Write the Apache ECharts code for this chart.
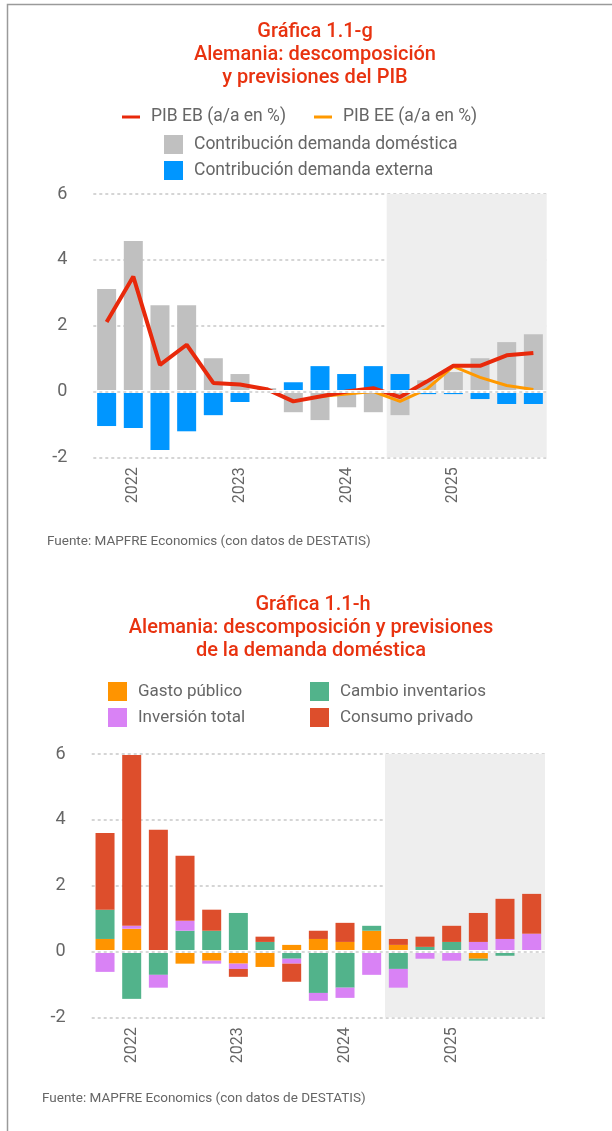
<!DOCTYPE html>
<html>
<head>
<meta charset="utf-8">
<script src="https://cdn.jsdelivr.net/npm/echarts@6/dist/echarts.min.js"></script>
<style>
html,body{margin:0;padding:0;background:#fff;}
#c{width:612px;height:1131px;}
</style>
</head>
<body>
<div id="c"></div>
<script>
// ---------- DATA ----------
var quarters = ['4T21','1T22','2T22','3T22','4T22','1T23','2T23','3T23','4T23','1T24','2T24','3T24','4T24','1T25','2T25','3T25','4T25'];
var yTicks = [-2, 0, 2, 4, 6];
var forecastStart = '3T24';
var forecastEnd = '4T25';

// Chart 1.1-g
var domestica = [3.11, 4.57, 2.62, 2.62, 1.01, 0.53, 0.10, -0.63, -0.87, -0.48, -0.63, -0.72, 0.34, 0.59, 1.01, 1.50, 1.74];
var externa   = [-1.05, -1.11, -1.78, -1.21, -0.72, -0.32, 0, 0.28, 0.77, 0.53, 0.77, 0.53, -0.08, -0.08, -0.23, -0.38, -0.38];
var pibEB     = [2.11, 3.49, 0.81, 1.42, 0.26, 0.21, 0.07, -0.30, -0.15, 0.00, 0.10, -0.17, 0.30, 0.78, 0.78, 1.10, 1.17];
var pibEE     = [null, null, null, null, null, null, null, null, -0.15, -0.08, 0.00, -0.30, 0.07, 0.76, 0.43, 0.18, 0.06];

// Chart 1.1-h
var gasto       = [0.38, 0.69, 0, -0.37, -0.28, -0.37, -0.47, 0.20, 0.38, 0.29, 0.63, 0.20, 0, 0, -0.22, 0, 0];
var inventarios = [0.89, -1.44, -0.71, 0.63, 0.63, 1.17, 0.29, -0.22, -1.26, -1.10, 0.15, -0.53, 0.14, 0.29, -0.06, -0.13, 0];
var inversion   = [-0.62, 0.09, -0.39, 0.30, -0.09, -0.16, 0, -0.15, -0.24, -0.31, -0.71, -0.57, -0.22, -0.28, 0.29, 0.38, 0.54];
var consumo     = [2.33, 5.19, 3.70, 1.98, 0.64, -0.24, 0.16, -0.55, 0.25, 0.58, 0, 0.18, 0.31, 0.49, 0.88, 1.22, 1.21];

// ---------- STYLE ----------
var FONT = 'Roboto';
var TXT = '#666666';
var RED_T = '#e8320f';

function xAxisCfg(gi){
  return {
    type:'category', gridIndex:gi, data:quarters, boundaryGap:true,
    axisLine:{show:false}, axisTick:{show:false},
    axisLabel:{
      interval:0, rotate:90, color:TXT, fontFamily:FONT, fontSize:16, margin:10,
      formatter:function(v){ return v.indexOf('1T')===0 ? '20'+v.slice(2) : ''; }
    },
    splitLine:{show:false}
  };
}
function yAxisCfg(gi){
  return {
    type:'value', gridIndex:gi, min:yTicks[0], max:yTicks[yTicks.length-1], interval:2,
    axisLine:{show:false}, axisTick:{show:false},
    axisLabel:{color:TXT, fontFamily:FONT, fontSize:18, margin:26},
    splitLine:{lineStyle:{color:'#c8c8c8', width:1.5, type:[3,3]}}
  };
}
var shade = {
  silent:true, itemStyle:{color:'#eeeeee'},
  data:[[{xAxis:forecastStart},{xAxis:forecastEnd}]]
};
var zeroLine = {
  silent:true, symbol:'none', label:{show:false},
  data:[
    {yAxis:0, lineStyle:{color:'#ffffff', width:3, type:'solid'}},
    {yAxis:0, lineStyle:{color:'#cccccc', width:1.5, type:[3,3]}}
  ]
};
function titleText(txt, x, y){
  return {type:'text', x:x, y:y, style:{text:txt, fill:RED_T, font:'500 20px Roboto', textAlign:'center', textVerticalAlign:'middle'}};
}
var legText = {color:TXT, fontFamily:FONT, fontSize:17.5, padding:[0,0,0,6]};

var option = {
  animation:false,
  backgroundColor:'#ffffff',
  graphic:[
    {type:'polyline', shape:{points:[[7.5,1131],[7.5,4.5],[612,4.5]]}, style:{stroke:'#9a9a9a', lineWidth:1.5, fill:null}},
    titleText('Gráfica 1.1-g', 315, 32),
    titleText('Alemania: descomposición', 315, 55),
    titleText('y previsiones del PIB', 315, 78),
    titleText('Gráfica 1.1-h', 313, 605),
    titleText('Alemania: descomposición y previsiones', 311, 628),
    titleText('de la demanda doméstica', 311, 651),
    {type:'text', left:47, top:535, style:{text:'Fuente: MAPFRE Economics (con datos de DESTATIS)', fill:TXT, font:'13.5px Roboto'}},
    {type:'text', left:42, top:1092, style:{text:'Fuente: MAPFRE Economics (con datos de DESTATIS)', fill:TXT, font:'13.5px Roboto'}}
  ],
  legend:[
    {data:['PIB EB (a/a en %)','PIB EE (a/a en %)'], orient:'horizontal', left:122, top:108, itemGap:28, padding:0,
     itemWidth:18, itemHeight:3, icon:'rect', textStyle:legText},
    {data:['Contribución demanda doméstica','Contribución demanda externa'], orient:'vertical', left:164, top:135, itemGap:7, padding:0,
     itemWidth:19, itemHeight:19, icon:'rect', textStyle:legText},
    {data:['Gasto público','Inversión total'], orient:'vertical', left:108, top:682, itemGap:7, padding:0,
     itemWidth:19, itemHeight:19, icon:'rect', textStyle:{color:TXT, fontFamily:FONT, fontSize:17, padding:[0,0,0,6]}},
    {data:['Cambio inventarios','Consumo privado'], orient:'vertical', left:310, top:682, itemGap:7, padding:0,
     itemWidth:19, itemHeight:19, icon:'rect', textStyle:{color:TXT, fontFamily:FONT, fontSize:17, padding:[0,0,0,6]}}
  ],
  grid:[
    {left:93.3, right:65.3, top:194, height:263.3, containLabel:false},
    {left:91.7, right:67, top:754, height:263.3, containLabel:false}
  ],
  xAxis:[xAxisCfg(0), xAxisCfg(1)],
  yAxis:[yAxisCfg(0), yAxisCfg(1)],
  series:[
    {name:'Contribución demanda doméstica', type:'bar', xAxisIndex:0, yAxisIndex:0, stack:'g', barWidth:19,
     itemStyle:{color:'#c0c0c0'}, data:domestica, markArea:shade},
    {name:'Contribución demanda externa', type:'bar', xAxisIndex:0, yAxisIndex:0, stack:'g', barWidth:19,
     itemStyle:{color:'#0096ff'}, data:externa, markLine:zeroLine},
    {name:'PIB EE (a/a en %)', type:'line', xAxisIndex:0, yAxisIndex:0, symbol:'none', z:3,
     lineStyle:{color:'#ff9900', width:3}, itemStyle:{color:'#ff9900'}, data:pibEE},
    {name:'PIB EB (a/a en %)', type:'line', xAxisIndex:0, yAxisIndex:0, symbol:'none', z:4,
     lineStyle:{color:'#e8290b', width:4}, itemStyle:{color:'#e8290b'}, data:pibEB},

    {name:'Gasto público', type:'bar', xAxisIndex:1, yAxisIndex:1, stack:'h', barWidth:19,
     itemStyle:{color:'#ff9400'}, data:gasto, markArea:shade},
    {name:'Cambio inventarios', type:'bar', xAxisIndex:1, yAxisIndex:1, stack:'h', barWidth:19,
     itemStyle:{color:'#52b38b'}, data:inventarios},
    {name:'Inversión total', type:'bar', xAxisIndex:1, yAxisIndex:1, stack:'h', barWidth:19,
     itemStyle:{color:'#d982f5'}, data:inversion},
    {name:'Consumo privado', type:'bar', xAxisIndex:1, yAxisIndex:1, stack:'h', barWidth:19,
     itemStyle:{color:'#dd4e2c'}, data:consumo, markLine:zeroLine}
  ]
};
var chart = echarts.init(document.getElementById('c'), null, {renderer:'canvas'});
chart.setOption(option);
</script>
</body>
</html>
